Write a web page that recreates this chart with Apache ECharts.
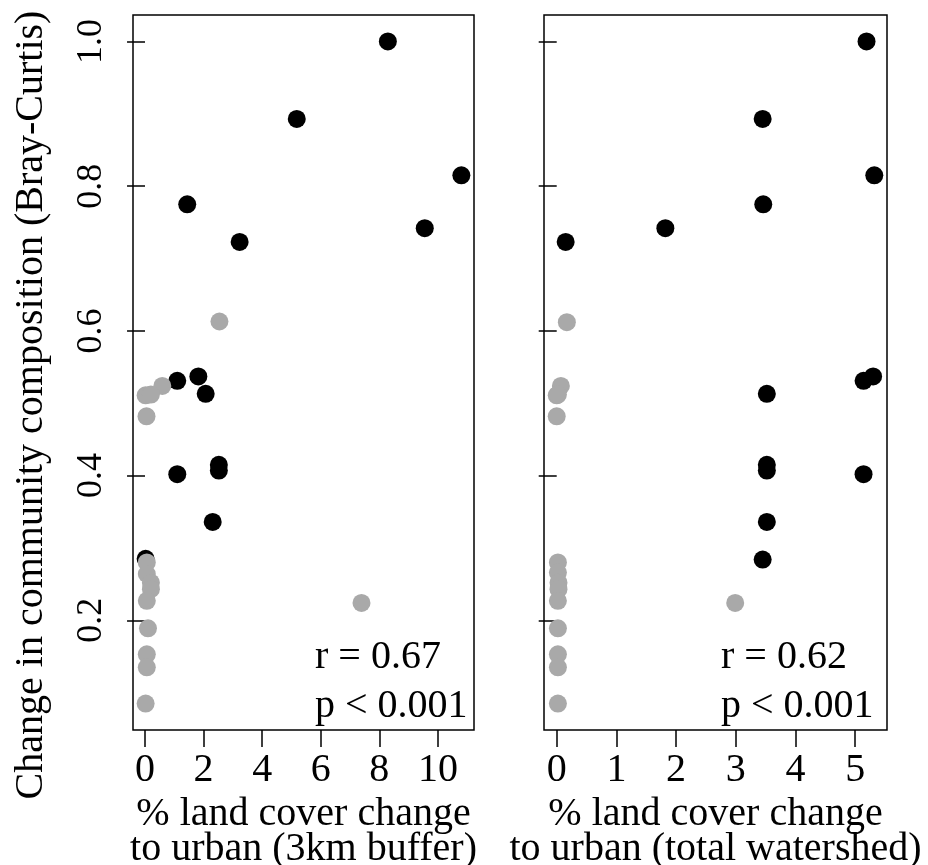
<!DOCTYPE html>
<html>
<head>
<meta charset="utf-8">
<script src="https://cdn.jsdelivr.net/npm/echarts@6/dist/echarts.min.js"></script>
<style>html,body{margin:0;padding:0;background:#fff}#c{width:928px;height:865px}</style>
</head>
<body>
<div id="c"></div>
<script>
// ---- data ----
const leftBlackX = [8.29, 5.18, 10.80, 1.44, 9.55, 3.23, 1.10, 1.82, 2.07, 1.10, 2.52, 2.52, 2.31, 0.02];
const leftBlackY = [1.0, 0.893, 0.815, 0.775, 0.742, 0.723, 0.531, 0.537, 0.513, 0.402, 0.415, 0.407, 0.336, 0.285];
const leftGrayX = [2.54, 0.59, 0.02, 0.20, 0.05, 0.06, 0.06, 0.20, 0.20, 0.06, 0.10, 0.06, 0.06, 0.02, 7.39];
const leftGrayY = [0.613, 0.524, 0.511, 0.512, 0.482, 0.280, 0.264, 0.252, 0.243, 0.227, 0.189, 0.153, 0.135, 0.085, 0.224];

const rightBlackX = [5.19, 3.45, 5.32, 3.46, 1.82, 0.15, 3.52, 5.14, 5.30, 3.52, 3.52, 5.14, 3.52, 3.45];
const rightBlackY = [1.0, 0.893, 0.815, 0.775, 0.742, 0.723, 0.513, 0.531, 0.537, 0.415, 0.407, 0.402, 0.336, 0.284];
const rightGrayX = [0.17, 0.07, 0.00, 0.02, 0.00, 0.02, 0.02, 0.03, 0.03, 0.02, 0.02, 0.02, 0.02, 0.02, 2.99];
const rightGrayY = [0.612, 0.524, 0.511, 0.512, 0.482, 0.280, 0.266, 0.252, 0.243, 0.227, 0.189, 0.153, 0.135, 0.085, 0.224];

const yTicks = [0.2, 0.4, 0.6, 0.8, 1.0];
const leftXTicks = [0, 2, 4, 6, 8, 10];
const rightXTicks = [0, 1, 2, 3, 4, 5];

const yTitle = 'Change in community composition (Bray-Curtis)';
const leftXTitle = '% land cover change\nto urban (3km buffer)';
const rightXTitle = '% land cover change\nto urban (total watershed)';
const leftStats = ['r = 0.67', 'p < 0.001'];
const rightStats = ['r = 0.62', 'p < 0.001'];

// ---- helpers ----
const FONT = '"Liberation Serif", "Times New Roman", serif';
function pad(arr) { // R-style 4% range extension
  const mn = Math.min(...arr), mx = Math.max(...arr), d = (mx - mn) * 0.04;
  return [mn - d, mx + d];
}
const zip = (a, b) => a.map((v, i) => [v, b[i]]);
const allY = leftBlackY.concat(leftGrayY, rightBlackY, rightGrayY);
const yR = pad(allY);
const lxR = pad(leftBlackX.concat(leftGrayX));
const rxR = pad(rightBlackX.concat(rightGrayX));

function xAxis(idx, range, ticks, name) {
  return {
    type: 'value', gridIndex: idx, min: range[0], max: range[1],
    splitLine: { show: false }, axisLine: { show: false },
    axisTick: { show: true, inside: false, length: 17, customValues: ticks, lineStyle: { color: '#000', width: 1.5 } },
    axisLabel: { customValues: ticks, color: '#000', fontFamily: FONT, fontSize: 40, margin: 20 },
    name: name, nameLocation: 'middle', nameGap: 59,
    nameTextStyle: { color: '#000', fontFamily: FONT, fontSize: 40, lineHeight: 35 }
  };
}
function yAxis(idx, showLabels) {
  return {
    type: 'value', gridIndex: idx, min: yR[0], max: yR[1],
    splitLine: { show: false }, axisLine: { show: false },
    axisTick: { show: true, length: 18, customValues: yTicks, lineStyle: { color: '#000', width: 1.5 } },
    axisLabel: { show: showLabels, customValues: yTicks, rotate: 90, color: '#000', fontFamily: FONT, fontSize: 36, margin: 23,
      formatter: v => v.toFixed(1) }
  };
}
function sc(xi, data, color) {
  return { type: 'scatter', xAxisIndex: xi, yAxisIndex: xi, data: data, symbolSize: 18,
    itemStyle: { color: color, opacity: 1 }, silent: true, animation: false };
}
function statText(x, lines) {
  return lines.map((t, i) => ({
    type: 'text', x: x, y: 657 + i * 49,
    style: { text: t, fontFamily: FONT, fontSize: 40, fill: '#000', align: 'left', verticalAlign: 'middle' }
  }));
}

const chart = echarts.init(document.getElementById('c'), null, { renderer: 'canvas' });
chart.setOption({
  animation: false,
  backgroundColor: '#fff',
  grid: [
    { left: 133, top: 15, width: 341, height: 715, show: true, borderColor: '#000', borderWidth: 1.5, backgroundColor: 'transparent', outerBoundsMode: 'none', containLabel: false },
    { left: 544, top: 15, width: 343, height: 715, show: true, borderColor: '#000', borderWidth: 1.5, backgroundColor: 'transparent', outerBoundsMode: 'none', containLabel: false }
  ],
  xAxis: [xAxis(0, lxR, leftXTicks, leftXTitle), xAxis(1, rxR, rightXTicks, rightXTitle)],
  yAxis: [yAxis(0, true), yAxis(1, false)],
  series: [
    sc(0, zip(leftBlackX, leftBlackY), '#000000'),
    sc(0, zip(leftGrayX, leftGrayY), '#a9a9a9'),
    sc(1, zip(rightBlackX, rightBlackY), '#000000'),
    sc(1, zip(rightGrayX, rightGrayY), '#a9a9a9')
  ],
  graphic: [
    { type: 'text', x: 31.5, y: 405, rotation: Math.PI / 2,
      style: { text: yTitle, fontFamily: FONT, fontSize: 40, fill: '#000', align: 'center', verticalAlign: 'middle' } }
  ].concat(statText(315, leftStats), statText(721, rightStats))
});
</script>
</body>
</html>
